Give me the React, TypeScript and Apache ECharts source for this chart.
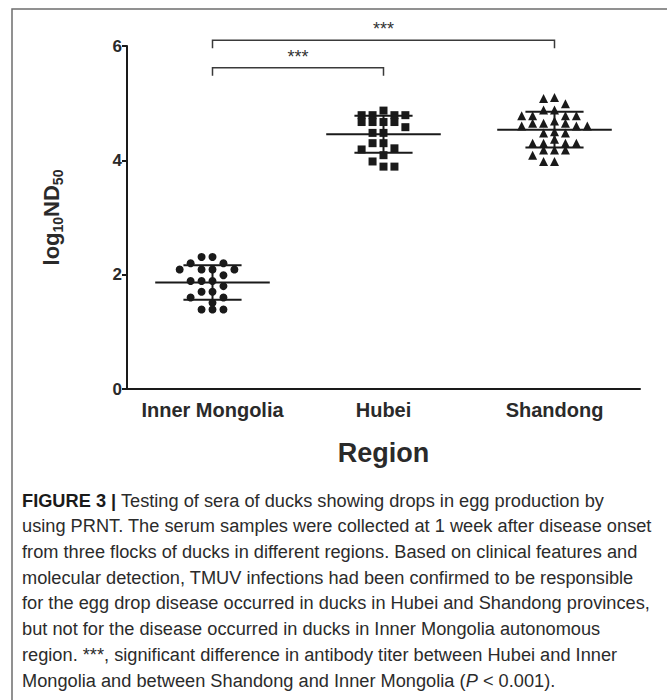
import React, { useEffect, useRef } from "react";
import * as echarts from "echarts";

// ---- data (log10 ND50 per duck serum) ----
const categories = ["Inner Mongolia", "Hubei", "Shandong"];
const innerMongolia = [2.31, 2.31, 2.2, 2.2, 2.09, 2.09, 2.09, 2.09, 1.99, 1.89, 1.89, 1.89, 1.8, 1.7, 1.7, 1.6, 1.6, 1.51, 1.39, 1.39, 1.39];
const hubei = [4.87, 4.79, 4.79, 4.79, 4.79, 4.67, 4.67, 4.67, 4.67, 4.58, 4.48, 4.48, 4.3, 4.3, 4.21, 4.19, 4.09, 3.98, 3.89, 3.89];
const shandong = [5.1, 5.08, 4.99, 4.88, 4.88, 4.78, 4.78, 4.78, 4.78, 4.69, 4.65, 4.65, 4.65, 4.6, 4.6, 4.6, 4.5, 4.48, 4.48, 4.37, 4.3, 4.3, 4.3, 4.3, 4.18, 4.18, 4.18, 4.09, 3.98, 3.98];
const yTicks = [0, 2, 4, 6];
const symbols = ["circle", "rect", "triangle"];
// significance comparisons: [group a, group b, label, bracket height in log10ND50 units]
const comparisons: [number, number, string, number][] = [
  [0, 1, "***", 5.62],
  [0, 2, "***", 6.1],
];

const captionLines = [
  "{b|FIGURE 3 |} Testing of sera of ducks showing drops in egg production by",
  "using PRNT. The serum samples were collected at 1 week after disease onset",
  "from three flocks of ducks in different regions. Based on clinical features and",
  "molecular detection, TMUV infections had been confirmed to be responsible",
  "for the egg drop disease occurred in ducks in Hubei and Shandong provinces,",
  "but not for the disease occurred in ducks in Inner Mongolia autonomous",
  "region. ***, significant difference in antibody titer between Hubei and Inner",
  "Mongolia and between Shandong and Inner Mongolia ({i|P} < 0.001).",
];

const groups = [innerMongolia, hubei, shandong];
const STEP = 0.064; // horizontal spacing of neighbouring dots, in category units
const NEAR = 0.115; // dots closer than this (in axis units) may not share a slot
const INK = "#1a1a1a";

function mean(a: number[]) {
  return a.reduce((s, v) => s + v, 0) / a.length;
}
function sd(a: number[]) {
  const m = mean(a);
  return Math.sqrt(a.reduce((s, v) => s + (v - m) * (v - m), 0) / (a.length - 1));
}
function swarm(values: number[], center: number): number[][] {
  const sorted = [...values].sort((a, b) => b - a);
  const placed: { v: number; k: number }[] = [];
  const order = [0, -1, 1, -2, 2, -3, 3, -4, 4, -5, 5];
  for (const v of sorted) {
    let slot = 0;
    for (const k of order) {
      if (!placed.some((p) => p.k === k && Math.abs(p.v - v) < NEAR)) {
        slot = k;
        break;
      }
    }
    placed.push({ v, k: slot });
  }
  return placed.map((p) => [center + p.k * STEP, p.v]);
}

export default function App() {
  const ref = useRef<HTMLDivElement>(null);
  useEffect(() => {
    if (!ref.current) return;
    const chart = echarts.init(ref.current, undefined, { renderer: "svg" });
    const font = "'Liberation Sans', Arial, sans-serif";
    const capFont = "'Liberation Sans', Arial, sans-serif";
    const capSize = 19;
    // condense caption text horizontally to mimic the narrow typeface
    let capScale = 0.86;
    try {
      const cv = document.createElement("canvas").getContext("2d");
      if (cv) {
        cv.font = `${capSize}px 'Liberation Sans'`;
        const w = cv.measureText(captionLines[1]).width;
        if (w > 0) capScale = 630 / w;
      }
    } catch (e) {}
    const stats = groups.map((g, i) => [i, mean(g), sd(g)]);
    const yMax = yTicks[yTicks.length - 1];

    const option: any = {
      animation: false,
      backgroundColor: "#ffffff",
      textStyle: { fontFamily: font },
      grid: { left: 127, right: 27, top: 46, bottom: 311 },
      xAxis: [
        {
          type: "category",
          data: categories,
          boundaryGap: true,
          axisLine: { onZero: false, lineStyle: { color: INK, width: 2 } },
          axisTick: { alignWithLabel: true, length: 5, lineStyle: { color: INK, width: 2 } },
          axisLabel: { interval: 0, fontFamily: font, fontWeight: "bold", fontSize: 20, color: "#2a2a2a", margin: 11 },
          name: "Region",
          nameLocation: "middle",
          nameGap: 50,
          nameTextStyle: { fontFamily: font, fontWeight: "bold", fontSize: 27, color: "#2a2a2a" },
        },
        { type: "value", min: -0.5, max: 2.5, show: false },
      ],
      yAxis: {
        type: "value",
        min: yTicks[0],
        max: yMax,
        interval: 2,
        axisLine: { show: true, onZero: false, lineStyle: { color: INK, width: 2 } },
        axisTick: { show: true, length: 5, lineStyle: { color: INK, width: 2 } },
        axisLabel: { fontFamily: font, fontWeight: "bold", fontSize: 17, color: "#2a2a2a", margin: 5 },
        splitLine: { show: false },
        name: "{a|log}{s|10}{a|ND}{s|50}",
        nameLocation: "middle",
        nameGap: 62,
        nameTextStyle: {
          rich: {
            a: { fontFamily: font, fontWeight: "bold", fontSize: 22, color: "#2a2a2a", verticalAlign: "bottom", padding: [0, 0, 3, 0] },
            s: { fontFamily: font, fontWeight: "bold", fontSize: 14, color: "#2a2a2a", verticalAlign: "bottom" },
          },
        },
      },
      graphic: [
        {
          type: "rect",
          shape: { x: 12, y: 9, width: 720, height: 740 },
          style: { fill: "none", stroke: "#6e6e6e", lineWidth: 1.5 },
          silent: true,
        },
        ...captionLines.map((t, i) => ({
          type: "text",
          x: 22,
          y: 500 + i * 25.7,
          scaleX: capScale,
          style: {
            text: t,
            x: 0,
            y: 0,
            verticalAlign: "middle",
            fontFamily: capFont,
            fontSize: capSize,
            fill: "#2b2b2b",
            rich: {
              b: { fontFamily: capFont, fontWeight: "bold", fontSize: capSize, fill: "#1a1a1a" },
              i: { fontFamily: capFont, fontStyle: "italic", fontSize: capSize, fill: "#2b2b2b" },
            },
          },
        })),
      ],
      series: [
        ...groups.map((g, i) => ({
          type: "scatter",
          xAxisIndex: 1,
          yAxisIndex: 0,
          symbol: symbols[i],
          symbolSize: i === 2 ? 9 : 8,
          itemStyle: { color: INK, opacity: 1 },
          data: swarm(g, i),
          z: 3,
        })),
        {
          type: "custom",
          xAxisIndex: 1,
          yAxisIndex: 0,
          z: 4,
          data: stats,
          renderItem: (_p: any, api: any) => {
            const i = api.value(0);
            const m = api.value(1);
            const s = api.value(2);
            const a = api.coord([i - 0.335, m]);
            const b = api.coord([i + 0.335, m]);
            const u1 = api.coord([i - 0.17, m + s]);
            const u2 = api.coord([i + 0.17, m + s]);
            const l1 = api.coord([i - 0.17, m - s]);
            const l2 = api.coord([i + 0.17, m - s]);
            const c1 = api.coord([i, m + s]);
            const c2 = api.coord([i, m - s]);
            const st = { stroke: INK, lineWidth: 2 };
            return {
              type: "group",
              children: [
                { type: "line", shape: { x1: a[0], y1: a[1], x2: b[0], y2: b[1] }, style: st },
                { type: "line", shape: { x1: u1[0], y1: u1[1], x2: u2[0], y2: u2[1] }, style: st },
                { type: "line", shape: { x1: l1[0], y1: l1[1], x2: l2[0], y2: l2[1] }, style: st },
                { type: "line", shape: { x1: c1[0], y1: c1[1], x2: c2[0], y2: c2[1] }, style: st },
              ],
            };
          },
        },
        {
          type: "custom",
          xAxisIndex: 1,
          yAxisIndex: 0,
          z: 5,
          data: comparisons.map(([a, b, _l, h]) => [a, b, h]),
          renderItem: (p: any, api: any) => {
            const a = api.value(0);
            const b = api.value(1);
            const lvl = api.value(2);
            const p1 = api.coord([a, lvl]);
            const p2 = api.coord([b, lvl]);
            const label = comparisons[p.dataIndex][2];
            return {
              type: "group",
              children: [
                {
                  type: "polyline",
                  shape: { points: [[p1[0], p1[1] + 8], [p1[0], p1[1]], [p2[0], p2[1]], [p2[0], p2[1] + 8]] },
                  style: { stroke: "#3a3a3a", lineWidth: 1.5, fill: "none" },
                },
                {
                  type: "text",
                  x: (p1[0] + p2[0]) / 2,
                  y: p1[1] - 2,
                  style: { text: label, fontFamily: font, fontSize: 18, fill: "#333", align: "center", verticalAlign: "bottom" },
                },
              ],
            };
          },
        },
      ],
    };
    chart.setOption(option);
    return () => chart.dispose();
  }, []);
  return (
    <div
      ref={ref}
      style={{ position: "fixed", left: 0, top: 0, width: 667, height: 700, background: "#fff" }}
    />
  );
}
